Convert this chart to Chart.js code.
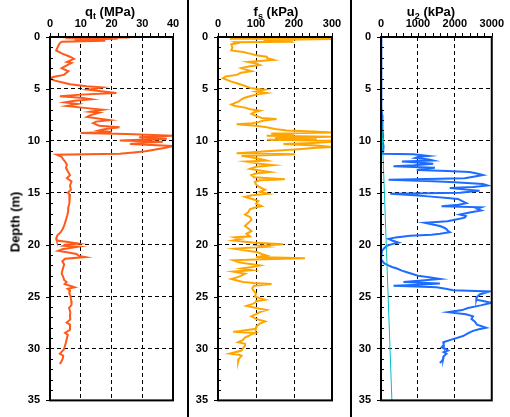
<!DOCTYPE html>
<html>
<head>
<meta charset="utf-8">
<script src="https://cdn.jsdelivr.net/npm/chart.js@4.4.0/dist/chart.umd.min.js"></script>
<style>
  body { margin: 0; background: #fff; }
  #wrap { position: relative; width: 510px; height: 417px; overflow: hidden; background: #fff;
          font-family: "Liberation Sans", Arial, sans-serif; }
  canvas { position: absolute; top: 0; }
  .title { position: absolute; top: 4px; font-weight: bold; font-size: 13px; line-height: 15px;
           white-space: nowrap; transform: translateX(-50%); color: #000; }
  .title sub { font-size: 9px; vertical-align: -3px; line-height: 0; }
  .sep { position: absolute; top: 0; width: 2px; height: 417px; background: #000; }
  #ylab { position: absolute; left: 15px; top: 222px; font-weight: bold; font-size: 13px;
          white-space: nowrap; transform: translate(-50%, -50%) rotate(-90deg); }
</style>
</head>
<body>
<div id="wrap">
  <canvas id="c1" width="188" height="417" style="left:0px"></canvas>
  <canvas id="c2" width="163" height="417" style="left:188px"></canvas>
  <canvas id="c3" width="159" height="417" style="left:351px"></canvas>
  <div class="sep" style="left:187px"></div>
  <div class="sep" style="left:350px"></div>
  <div class="title" style="left:110px">q<sub>t</sub> (MPa)</div>
  <div class="title" style="left:276px">f<sub>s</sub> (kPa)</div>
  <div class="title" style="left:431px">u<sub>2</sub> (kPa)</div>
  <div id="ylab">Depth (m)</div>
</div>
<script>
// tick labels
const depthTicks = [0, 5, 10, 15, 20, 25, 30, 35];
const qtTicks = [0, 10, 20, 30, 40];
const fsTicks = [0, 100, 200, 300];
const u2Ticks = [0, 1000, 2000, 3000];

// cone resistance qt (MPa)
const qtDepth = [0.0,0.05,0.12,0.18,0.25,0.35,0.45,0.55,0.8,1.1,1.3,1.6,1.9,2.1,2.4,2.5,2.8,3.0,3.3,3.65,3.85,4.0,4.2,4.4,4.55,4.75,4.85,4.95,5.07,5.2,5.4,5.55,5.7,5.85,6.0,6.15,6.3,6.45,6.65,6.85,7.0,7.2,7.3,7.55,7.7,8.0,8.15,8.3,8.55,8.7,8.85,9.0,9.15,9.25,9.35,9.5,9.6,9.66,9.8,9.98,10.1,10.2,10.3,10.4,10.5,10.65,10.77,10.9,11.0,11.1,11.25,11.34,11.55,11.8,12.0,12.3,12.6,13.0,13.3,13.6,13.9,14.3,14.7,15.0,15.2,15.6,16.0,16.4,16.8,17.2,17.6,18.0,18.4,18.8,19.1,19.4,19.6,19.75,19.9,20.0,20.1,20.2,20.3,20.45,20.6,20.75,20.9,21.1,21.2,21.35,21.6,21.9,22.2,22.5,22.8,23.1,23.4,23.6,23.8,24.0,24.1,24.25,24.4,24.7,25.0,25.4,25.8,26.1,26.5,26.9,27.2,27.5,27.7,28.2,28.5,28.7,29.0,29.4,29.8,30.1,30.5,30.7,31.0,31.3,31.5];
const qtValues = [0,26,5,22,8,18,4,3.3,2.8,2.3,2.0,4.0,6.5,7.8,5.5,7.0,5.0,3.8,6.0,4.5,1.0,0,1.6,4.5,6.5,11.9,16.8,15,12.3,16,21.6,10,3.2,10,13.5,8,4.9,9,5.4,12,17.3,13,16,13,12,19.5,15,14,16,22.6,18,15.9,20,10,25,40,32,29,38,22.7,36.7,30,26,33,40,38,35.7,33,31,28,22.7,2.2,3.8,4.3,4.9,5.5,5.2,5.9,6.5,5.5,7.0,6.5,6.8,5.8,6.5,6.2,6.4,6.0,5.9,5.6,5.2,4.8,4.3,3.5,2.4,2.0,2.2,6,9.2,5,4.3,9.2,7,4,2.7,6,8.6,9.5,11.4,4.9,4.0,4.6,4.3,4.0,3.8,4.3,4.6,5.4,4.8,7.0,8.0,5.8,6.5,6.3,6.7,6.9,7.0,6.2,6.6,6.5,6.6,5.4,6.5,6.5,4.9,5.8,5.5,5.2,4.8,4.5,3.2,4.3,4.1,3.6,3.2];

// sleeve friction fs (kPa)
const fsDepth = [0.0,0.1,0.17,0.2,0.28,0.35,0.45,0.5,0.6,0.7,1.0,1.3,1.44,1.6,1.75,1.9,2.05,2.2,2.3,2.4,2.55,2.7,2.85,3.0,3.15,3.3,3.45,3.65,3.8,3.97,4.15,4.3,4.45,4.6,4.75,4.9,5.0,5.07,5.25,5.4,5.55,5.7,5.85,6.0,6.2,6.35,6.5,6.65,6.8,6.95,7.1,7.25,7.4,7.6,7.8,7.9,8.05,8.2,8.3,8.4,8.55,8.7,8.85,9.0,9.1,9.2,9.3,9.45,9.5,9.6,9.7,9.8,9.9,10.0,10.1,10.2,10.3,10.45,10.6,10.7,10.8,10.9,11.0,11.1,11.2,11.3,11.45,11.6,11.75,11.9,12.0,12.2,12.35,12.5,12.7,12.85,13.0,13.15,13.3,13.5,13.7,13.8,13.95,14.2,14.4,14.55,14.7,14.9,15.1,15.25,15.4,15.6,15.8,16.05,16.3,16.45,16.6,16.85,17.1,17.35,17.6,17.9,18.2,18.45,18.7,18.95,19.2,19.3,19.45,19.6,19.8,19.95,20.1,20.2,20.3,20.4,20.55,20.7,20.9,21.05,21.2,21.3,21.4,21.5,21.7,21.85,22.0,22.15,22.3,22.45,22.6,22.8,23.0,23.15,23.3,23.45,23.6,23.7,23.8,23.95,24.2,24.4,24.7,25.0,25.15,25.3,25.45,25.6,25.75,25.9,26.1,26.3,26.5,26.7,26.9,27.15,27.4,27.6,27.85,28.1,28.4,28.5,28.6,28.8,28.95,29.2,29.4,29.55,29.75,30.0,30.2,30.5,30.6,30.7,31.0,31.3];
const fsValues = [30,50,31,300,120,190,194,44,50,35,38,35,66,84,100,128,130,146,110,79,100,110,80,62,75,88,60,49,20,13,25,35,50,62,75,84,105,124,100,128,100,84,70,62,55,45,35,45,71,85,110,95,88,100,115,154,120,106,90,49,100,128,150,181,250,300,140,200,128,300,150,260,130,300,300,250,172,260,300,250,212,170,128,90,49,203,62,90,110,128,75,110,146,100,84,110,137,100,88,95,176,110,97,100,106,115,124,110,132,90,71,90,106,100,115,95,84,80,71,85,88,80,71,80,88,75,84,44,60,40,90,172,110,128,80,44,70,102,115,128,100,229,120,40,55,80,110,90,62,88,40,71,60,50,35,50,66,95,141,95,90,93,100,97,110,124,100,97,88,75,100,128,110,100,88,100,124,110,102,100,40,97,90,80,71,65,53,71,71,65,62,31,55,62,55,53];

// pore pressure u2 (kPa)
const u2Depth = [0,6.3,6.8,7.5,8.0,8.5,9.0,9.5,10.0,10.5,11.0,11.25,11.3,11.45,11.55,11.65,11.8,11.9,12.0,12.1,12.2,12.35,12.45,12.6,12.7,12.8,12.9,13.0,13.15,13.3,13.45,13.6,13.75,13.9,14.0,14.15,14.3,14.45,14.55,14.7,14.8,14.9,15.0,15.1,15.25,15.35,15.5,15.6,15.8,16.0,16.15,16.3,16.4,16.55,16.7,16.9,17.1,17.25,17.4,17.6,17.75,17.9,18.05,18.2,18.35,18.5,18.65,18.8,18.95,19.05,19.15,19.3,19.45,19.6,19.8,19.95,20.1,20.3,20.6,20.85,21.1,21.4,21.6,21.8,22.0,22.15,22.3,22.5,22.65,22.8,23.0,23.15,23.3,23.45,23.6,23.75,23.85,23.96,24.1,24.25,24.4,24.5,24.65,24.8,25.05,25.3,25.45,25.6,25.85,26.1,26.3,26.5,26.7,26.9,27.15,27.4,27.7,28.0,28.15,28.3,28.55,28.8,29.1,29.4,29.65,29.9,30.05,30.2,30.35,30.5,30.75,31.0,31.2,31.4];
const u2Values = [0,0,20,30,40,50,30,60,40,70,60,54,877,1281,1000,923,1300,1415,565,1100,1415,900,339,1460,1200,968,1800,2402,2600,2760,2500,2268,205,1415,2000,2760,2894,2500,1864,2300,2671,2400,2133,250,900,1281,1800,2088,2200,2313,2100,1640,2716,2600,2716,2400,2133,2300,2268,2000,1800,1191,1400,1595,1700,1774,1800,1864,1600,1370,788,400,205,300,475,300,160,100,25,0,0,0,40,90,200,300,430,565,700,833,1000,1300,1595,1100,609,1595,1000,339,1506,1750,1953,2940,2800,2671,2600,2582,2800,2985,2700,2357,2200,1819,2300,2492,2450,2537,2600,2850,2650,2492,2350,2223,1950,1685,1700,1640,1750,1819,1700,1774,1700,1685,1650,1595];

// hydrostatic u0 (kPa)
const u0Depth = [0, 6, 35];
const u0Values = [0, 0, 295];

const frameTicks = {
  id: 'frameTicks',
  afterDraw(chart, args, opts) {
    const { ctx, chartArea: a, scales: { x, y } } = chart;
    ctx.save();
    ctx.strokeStyle = '#000';
    ctx.lineWidth = 1;
    ctx.beginPath();
    for (let v = x.min; v <= x.max + 1e-6; v += opts.xMinor) {
      const px = Math.round(x.getPixelForValue(v)) + 0.5;
      ctx.moveTo(px, a.top - 4);
      ctx.lineTo(px, a.top);
    }
    for (let d = y.min; d <= y.max; d += 1) {
      const py = Math.round(y.getPixelForValue(d)) + 0.5;
      if (d % 5 === 0) { ctx.moveTo(a.left - 4, py); ctx.lineTo(a.left, py); }
      else { ctx.moveTo(a.left, py); ctx.lineTo(a.left + 3, py); }
    }
    ctx.stroke();
    ctx.lineWidth = 2;
    ctx.strokeRect(a.left, a.top, a.right - a.left, a.bottom - a.top);
    ctx.restore();
  }
};

const tickFont = { family: '"Liberation Sans", Arial, sans-serif', size: 11, weight: 'bold' };

function pts(depth, vals) {
  return depth.map((d, i) => ({ x: vals[i], y: d }));
}

function makePanel(id, ticks, datasets, leftW, rightPad, minor) {
  const gridColor = (max) => (c) => (c.tick && c.tick.value > 0 && c.tick.value < max) ? '#000' : 'rgba(0,0,0,0)';
  const xMax = ticks[ticks.length - 1];
  const yMax = depthTicks[depthTicks.length - 1];
  new Chart(document.getElementById(id), {
    type: 'scatter',
    data: { datasets: datasets },
    plugins: [frameTicks],
    options: {
      responsive: false,
      animation: false,
      devicePixelRatio: 1,
      layout: { padding: { left: 0, right: rightPad, top: 0, bottom: 11 } },
      plugins: { legend: { display: false }, tooltip: { enabled: false }, frameTicks: { xMinor: minor } },
      elements: { point: { radius: 0 }, line: { tension: 0 } },
      scales: {
        x: {
          type: 'linear', position: 'top', min: ticks[0], max: xMax,
          afterFit: (s) => { s.height = 37; },
          ticks: { stepSize: ticks[1] - ticks[0], autoSkip: false, maxRotation: 0, padding: 6,
                   color: '#000', font: tickFont, callback: (v) => String(v) },
          grid: { color: gridColor(xMax), lineWidth: 1, drawTicks: false },
          border: { display: false, dash: [4, 3] }
        },
        y: {
          type: 'linear', position: 'left', reverse: true, min: depthTicks[0], max: yMax,
          afterFit: (s) => { s.width = leftW; },
          ticks: { stepSize: depthTicks[1] - depthTicks[0], autoSkip: false, padding: 10,
                   color: '#000', font: tickFont, callback: (v) => String(v) },
          grid: { color: gridColor(yMax), lineWidth: 1, drawTicks: false },
          border: { display: false, dash: [4, 3] }
        }
      }
    }
  });
}

makePanel('c1', qtTicks, [
  { data: pts(qtDepth, qtValues), showLine: true, borderColor: '#ff5a1a', borderWidth: 2 }
], 50, 15, 2.5);

makePanel('c2', fsTicks, [
  { data: pts(fsDepth, fsValues), showLine: true, borderColor: '#ffa500', borderWidth: 2 }
], 30, 19, 20);

makePanel('c3', u2Ticks, [
  { data: pts(u0Depth, u0Values), showLine: true, borderColor: '#00c0c8', borderWidth: 1 },
  { data: pts(u2Depth, u2Values), showLine: true, borderColor: '#1e6cff', borderWidth: 2 }
], 30, 18, 200);
</script>
</body>
</html>
